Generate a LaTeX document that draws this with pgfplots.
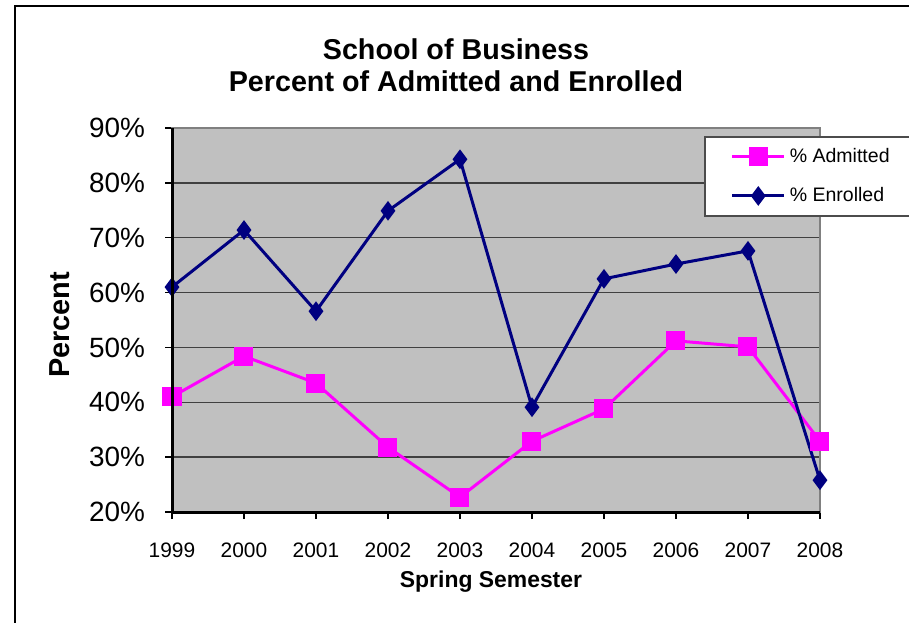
\documentclass[border=0pt]{standalone}
\usepackage{pgfplots}
\pgfplotsset{compat=1.18}
\usepackage{fontspec}
\setmainfont{Liberation Sans}
\definecolor{adm}{RGB}{255,0,255}
\definecolor{enr}{RGB}{0,0,128}
\definecolor{plotbg}{RGB}{192,192,192}
\begin{document}
\begin{tikzpicture}
\useasboundingbox (-86bp,-55.5bp) rectangle (368.5bp,256bp);
\fill[white] (-86bp,-55.5bp) rectangle (368.5bp,256bp);
\draw[line width=1.2bp] (-78.5bp,-80bp) rectangle (400bp,253bp);
\begin{axis}[
  at={(0,0)}, anchor=south west,
  scale only axis, width=324bp, height=192bp,
  xmin=1999, xmax=2008, ymin=20, ymax=90,
  xtick={1999,2000,...,2008}, ytick={20,30,...,90},
  /pgf/number format/assume math mode=true,
  /pgf/number format/1000 sep={},
  yticklabel={\pgfmathprintnumber{\tick}\%},
  xticklabel style={font=\fontsize{10.5}{12}\selectfont, yshift=-8.5bp},
  yticklabel style={font=\fontsize{14}{16}\selectfont, xshift=-6.5bp},
  axis background/.style={fill=plotbg},
  ymajorgrids, grid style={black!75, line width=0.7bp},
  axis line style={draw=black!50, line width=1bp},
  tick align=outside, major tick length=3.5bp,
  tick style={black, line width=0.7bp},
  xtick pos=bottom, ytick pos=left,
  legend style={at={(0.821,0.979)}, anchor=north west, draw=black!70, line width=0.8bp,
    fill=white, font=\fontsize{9.8}{12}\selectfont, row sep=7bp, inner xsep=13bp, inner ysep=3.7bp},
  legend cell align=left,
  legend image code/.code={\draw[mark repeat=2,mark phase=2] plot coordinates {(0bp,0bp) (13bp,0bp) (26bp,0bp)};},
]
\addplot[adm, line width=1.5bp, mark=square*, mark size=4bp, mark options={solid, fill=adm, draw=adm}]
  coordinates {(1999,41.0) (2000,48.4) (2001,43.5) (2002,31.8) (2003,22.7) (2004,32.9) (2005,38.8) (2006,51.2) (2007,50.1) (2008,32.9)};
\addlegendentry{\% Admitted}
\addplot[enr, line width=1.5bp, mark=diamond*, mark size=3.7bp, mark options={solid, fill=enr, draw=enr}]
  coordinates {(1999,61.0) (2000,71.4) (2001,56.6) (2002,74.9) (2003,84.3) (2004,39.1) (2005,62.5) (2006,65.2) (2007,67.6) (2008,25.8)};
\addlegendentry{\% Enrolled}
\end{axis}
\draw[black, line width=1.5bp] (0,192bp) -- (0,0) -- (324bp,0);
\node[font=\bfseries\fontsize{14.4}{16}\selectfont] at (142bp,231.5bp) {School of Business};
\node[font=\bfseries\fontsize{14.4}{16}\selectfont] at (142bp,215.5bp) {Percent of Admitted and Enrolled};
\node[font=\bfseries\fontsize{14.5}{16}\selectfont, rotate=90] at (-56bp,93.5bp) {Percent};
\node[font=\bfseries\fontsize{11.5}{14}\selectfont] at (159.5bp,-35bp) {Spring Semester};
\end{tikzpicture}
\end{document}
